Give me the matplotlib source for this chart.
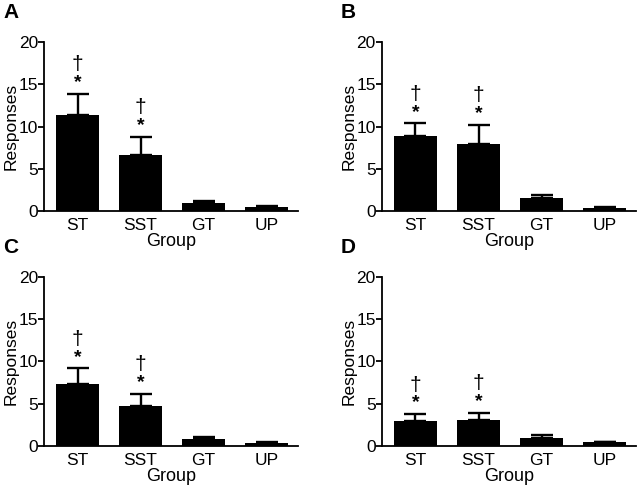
import numpy as np
import matplotlib.pyplot as plt

plt.rcParams['font.family'] = ['Liberation Sans', 'DejaVu Sans']

groups = ['ST', 'SST', 'GT', 'UP']
panels = ['A', 'B', 'C', 'D']

# mean responses and upper error (SEM) per panel
means_a = [11.4, 6.6, 0.95, 0.5]
err_a = [2.5, 2.2, 0.3, 0.13]
means_b = [8.85, 7.9, 1.5, 0.32]
err_b = [1.55, 2.3, 0.44, 0.18]
means_c = [7.3, 4.75, 0.78, 0.38]
err_c = [1.9, 1.45, 0.32, 0.12]
means_d = [3.0, 3.07, 0.95, 0.42]
err_d = [0.78, 0.86, 0.3, 0.1]

# significance marks per group (True = * and dagger shown)
sig = [True, True, False, False]

all_means = [means_a, means_b, means_c, means_d]
all_err = [err_a, err_b, err_c, err_d]

fig = plt.figure(figsize=(6.4, 4.92), dpi=100)

# axes rectangles in figure fractions
lefts = [0.069, 0.597, 0.069, 0.597]
bottoms = [0.571, 0.571, 0.0935, 0.0935]
w, h = 0.397, 0.3435

x = np.arange(len(groups))
for i in range(4):
    ax = fig.add_axes([lefts[i], bottoms[i], w, h])
    m = all_means[i]
    e = all_err[i]
    ax.bar(x, m, width=0.68, color='black', zorder=2)
    ax.errorbar(x, m, yerr=[np.zeros(len(e)), e], fmt='none', ecolor='black',
                elinewidth=1.7, capsize=8, capthick=1.7, zorder=1)
    for j in range(len(groups)):
        if sig[j]:
            top = m[j] + e[j]
            ax.text(x[j], top + 0.3, '*', ha='center', va='bottom',
                    fontsize=14, fontweight='bold')
            ax.text(x[j], top + 2.3, '\u2020', ha='center', va='bottom',
                    fontsize=15)
    ax.set_xlim(-0.53, 3.5)
    ax.set_ylim(0, 20)
    ax.set_yticks([0, 5, 10, 15, 20])
    ax.set_xticks(x)
    ax.set_xticklabels(groups)
    ax.tick_params(axis='x', length=0, labelsize=12.5, pad=5)
    ax.tick_params(axis='y', length=4, width=1.3, labelsize=12.5, pad=0.5)
    ax.spines['top'].set_visible(False)
    ax.spines['right'].set_visible(False)
    ax.spines['left'].set_linewidth(1.3)
    ax.spines['bottom'].set_linewidth(1.3)
    ax.set_ylabel('Responses', fontsize=12.5, labelpad=0)
    ax.set_xlabel('Group', fontsize=13, labelpad=0)
    fig.text(lefts[i] - 0.064, bottoms[i] + h + 0.04, panels[i],
             fontsize=15, fontweight='bold', ha='left', va='bottom')

fig.savefig('out.png', dpi=100)
